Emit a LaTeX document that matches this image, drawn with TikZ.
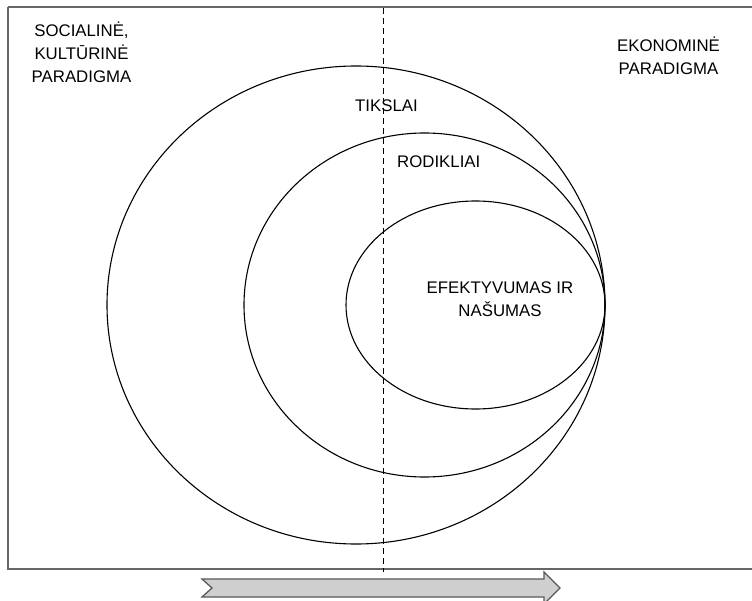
\documentclass[tikz,border=0pt]{standalone}
\usepackage{fontspec}
\setmainfont{Liberation Sans}
\begin{document}
\begin{tikzpicture}[x=1pt,y=-1pt,
  lbl/.style={font=\fontsize{16.8}{23}\selectfont, inner sep=0pt, align=center, text=black},
  frame/.style={draw=black!60, line width=1.3pt},
  ring/.style={draw=black, line width=1.1pt},
  divider/.style={draw=black, line width=1pt, dash pattern=on 6pt off 4pt},
  flow/.style={draw=black!65, line width=1.3pt, fill=black!19}]
\useasboundingbox (0,0) rectangle (752,601);
\fill[white] (0,0) rectangle (752,601);
% frame
\draw[frame] (8,7) -- (760,7) (8,7) -- (8,569) -- (760,569);
% ellipses
\draw[ring] (356,305) ellipse [x radius=249, y radius=239];
\draw[ring] (424.5,305) ellipse [x radius=180.5, y radius=172];
\draw[ring] (475.5,305) ellipse [x radius=129.5, y radius=104];
% dashed divider
\coordinate (dtop) at (383,8);
\coordinate (dbot) at (383,572);
\draw[divider] (dtop) -- (dbot);
% arrow
\draw[flow] (202,579) -- (544,579) -- (544,572) -- (560,588) -- (544,604) -- (544,597) -- (202,597) -- (212,588) -- cycle;
% labels (base anchor = baseline of the last line)
\node[lbl, anchor=base] (soc) at (81.5,83) {SOCIALINĖ,\\KULTŪRINĖ\\PARADIGMA};
\node[lbl, anchor=base] (eko) at (668.5,75) {EKONOMINĖ\\PARADIGMA};
\node[lbl, anchor=base] (tiks) at (386.5,112) {TIKSLAI};
\node[lbl, anchor=base west] (rod) at (397,168) {RODIKLIAI};
\node[lbl, anchor=base] (efe) at (500,317) {EFEKTYVUMAS IR\\NAŠUMAS};
\end{tikzpicture}
\end{document}
